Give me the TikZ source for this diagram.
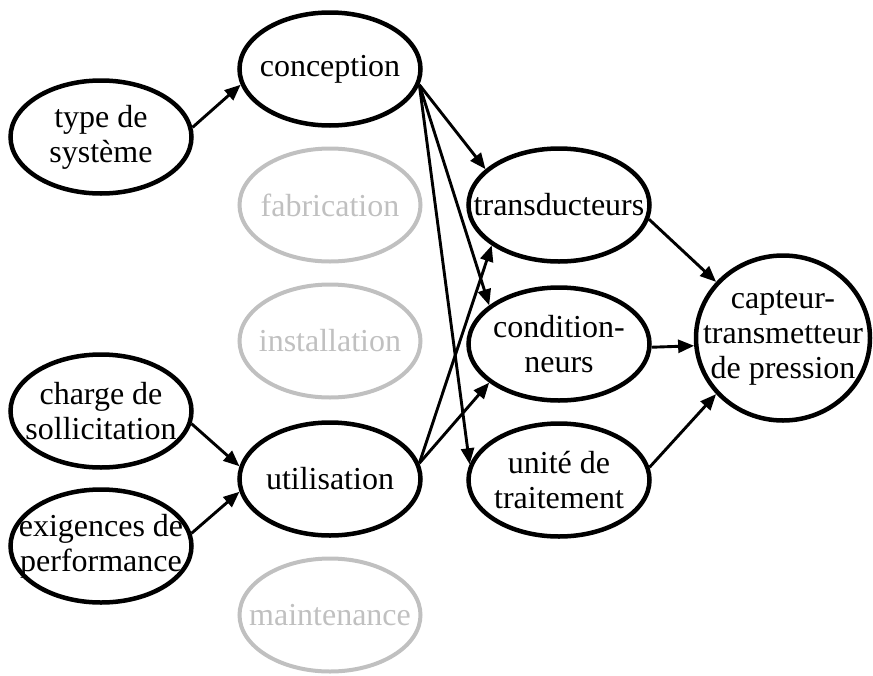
\documentclass[tikz,border=0pt]{standalone}
\usepackage{fontspec}
\setmainfont{Liberation Serif}
\usetikzlibrary{shapes.geometric,arrows.meta}
\definecolor{ghost}{HTML}{C0C0C0}
\tikzset{
  bub/.style={ellipse, draw=black, line width=4.5pt, minimum width=181pt, minimum height=113pt, inner sep=0pt},
  ghostbub/.style={bub, draw=ghost, line width=4pt},
  lbl/.style={align=center, inner sep=0pt, font=\fontsize{32}{35}\selectfont},
  ghostlbl/.style={lbl, text=ghost},
  conn/.style={line width=2.9pt, -{Triangle[length=16pt,width=13pt]}},
}
\begin{document}
\begin{tikzpicture}[x=1pt,y=-1pt]
\useasboundingbox (0,0) rectangle (873,675);
\node[bub, label={[lbl]center:{type de\\système}}] (type) at (101,137) {};
\node[bub, label={[lbl]center:{charge de\\sollicitation}}] (charge) at (101,411) {};
\node[bub, label={[lbl]center:{exigences de\\performance}}] (exig) at (101,546) {};
\node[bub, label={[lbl]center:{conception}}] (conc) at (330,69) {};
\node[ghostbub, label={[ghostlbl]center:{fabrication}}] (fab) at (330,205) {};
\node[ghostbub, label={[ghostlbl]center:{installation}}] (inst) at (330,341) {};
\node[bub, label={[lbl]center:{utilisation}}] (util) at (330,479) {};
\node[ghostbub, label={[ghostlbl]center:{maintenance}}] (maint) at (330,615) {};
\node[bub, label={[lbl]center:{transducteurs}}] (trans) at (559,205) {};
\node[bub, label={[lbl]center:{condition-\\neurs}}] (cond) at (559,344) {};
\node[bub, label={[lbl]center:{unité de\\traitement}}] (unit) at (559,480) {};
\node[bub, minimum width=174pt, minimum height=165pt, label={[lbl]center:{capteur-\\transmetteur\\de pression}}] (capt) at (783,338) {};
\draw[conn] (type.6) -- (conc.190);
\draw[conn] (charge.-8) -- (util.172);
\draw[conn] (exig.8) -- (util.188);
\draw[conn] (conc.-10) -- (trans.154);
\draw[conn] (conc.-10) -- (cond.151);
\draw[conn] (conc.-10) -- (unit.170);
\draw[conn] (util.10) -- (trans.211);
\draw[conn] (util.10) -- (cond.209);
\draw[conn] (trans.-9) -- (capt.140);
\draw[conn] (cond.-2) -- (capt.185);
\draw[conn] (unit.8) -- (capt.220);
\end{tikzpicture}
\end{document}
